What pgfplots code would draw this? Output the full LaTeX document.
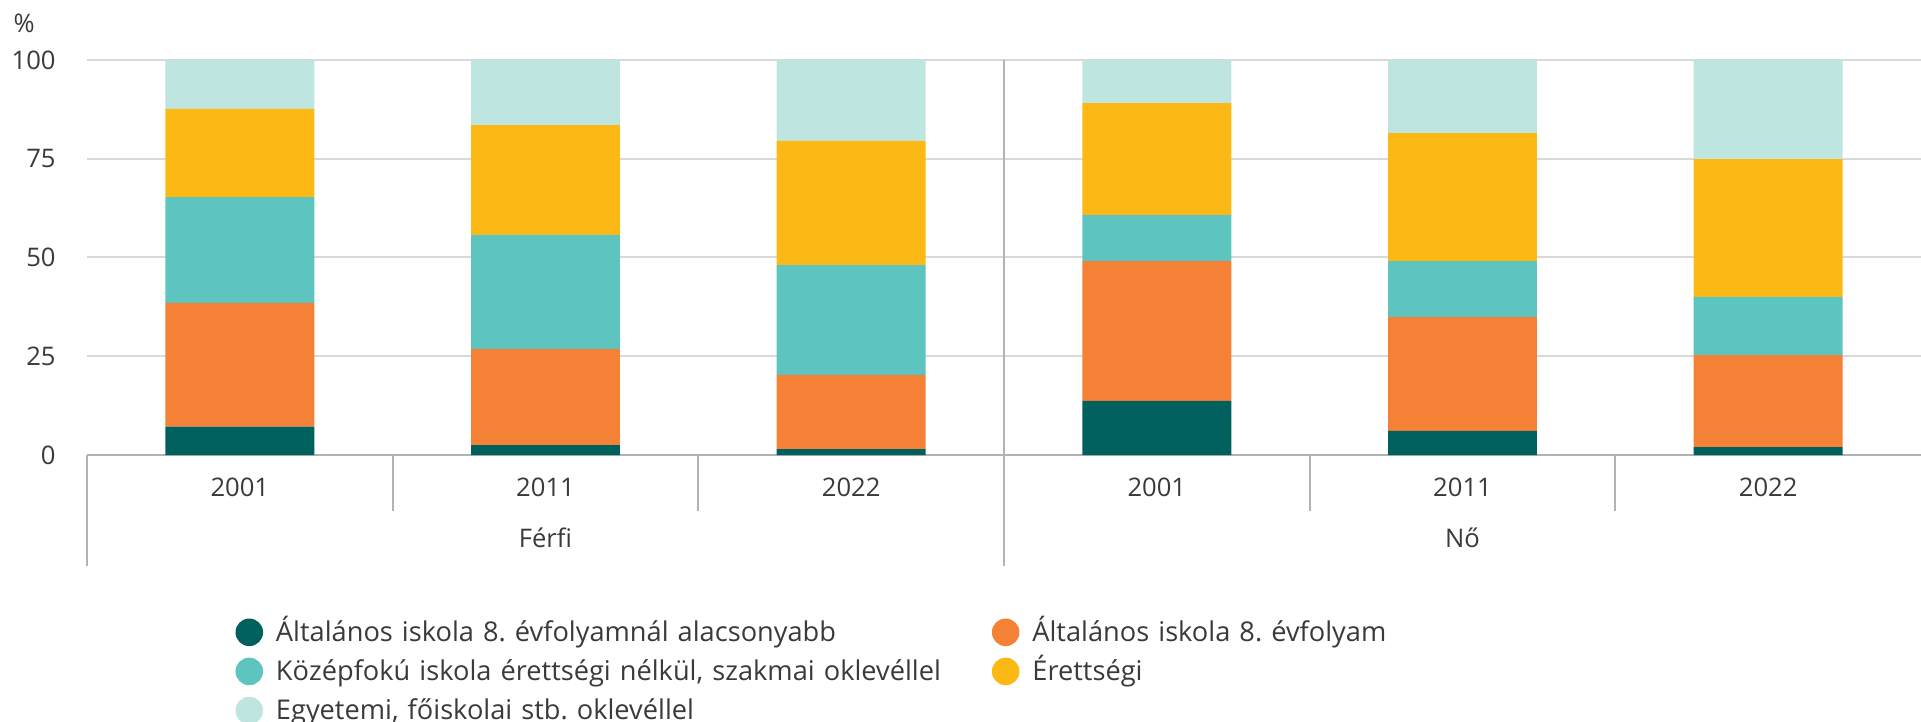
\documentclass[border=0pt]{standalone}
\usepackage{pgfplots}
\usepackage{pgfplotstable}
\pgfplotsset{compat=1.18}
\usepackage{fontspec}
\setmainfont{Open Sans}
\frenchspacing

\definecolor{cA}{HTML}{00605E}
\definecolor{cB}{HTML}{F48135}
\definecolor{cC}{HTML}{5DC4BF}
\definecolor{cD}{HTML}{FCB814}
\definecolor{cE}{HTML}{BFE5E1}
\definecolor{txt}{HTML}{3A3A3A}
\definecolor{sep}{HTML}{B3B3B3}

% x: 0-2 Ferfi 2001/2011/2022, 3-5 No 2001/2011/2022
\pgfplotstableread{
x  alacsony  nyolc  szakma  erettsegi  egyetem
0  7.2       31.3   26.8    22.3       12.4
1  2.5       24.3   28.9    27.8       16.5
2  1.5       18.8   27.8    31.4       20.5
3  13.7      35.4   11.7    28.3       10.9
4  6.1       28.8   14.2    32.4       18.5
5  2.0       23.3   14.7    34.9       25.1
}\data

\pgfplotsset{circleg/.style={legend image code/.code={\fill[##1] (6.9pt,0pt) circle (6.9pt);}}}

\begin{document}
\begin{tikzpicture}[font=\fontsize{12.8}{15}\selectfont, text=txt]
\begin{axis}[
  scale only axis, width=917pt, height=197.5pt,
  ybar stacked, bar width=0.487,
  xmin=-0.5, xmax=5.5, ymin=0, ymax=100,
  clip=false,
  axis x line*=bottom, axis y line*=left,
  axis line style={draw=none},
  major tick length=0pt,
  ytick={0,25,50,75,100},
  ymajorgrids, grid style={color=black!15, line width=1pt},
  xtick={0,...,5},
  xticklabels={2001,2011,2022,2001,2011,2022},
  xticklabel style={anchor=center, inner sep=0pt, yshift=-16.3pt},
  yticklabel style={anchor=east, inner sep=0pt, xshift=-15.5pt},
  /pgf/number format/assume math mode=true,
  tick label style={font=\fontsize{12.8}{15}\selectfont, text=txt},
  legend columns=2,
  legend style={draw=none, fill=none, inner sep=0pt, outer sep=0pt,
    at={(axis description cs:0.08097,-0.4140)}, anchor=north west,
    font=\fontsize{13.6}{16}\selectfont, text=txt,
    cells={anchor=west},
    nodes={inner sep=0pt, text height=11pt, text depth=2pt},
    row sep=5.75pt,
    /tikz/every odd column/.append style={column sep=6.45pt},
    /tikz/every even column/.append style={text width=350pt, column sep=7.95pt}},
  legend cell align=left,
]
\addplot[fill=cA, draw=none, circleg] table[x=x, y=alacsony] {\data};
\addplot[fill=cB, draw=none, circleg] table[x=x, y=nyolc] {\data};
\addplot[fill=cC, draw=none, circleg] table[x=x, y=szakma] {\data};
\addplot[fill=cD, draw=none, circleg] table[x=x, y=erettsegi] {\data};
\addplot[fill=cE, draw=none, circleg] table[x=x, y=egyetem] {\data};
\legend{Általános iskola 8. évfolyamnál alacsonyabb, Általános iskola 8. évfolyam,
  Középfokú iskola érettségi nélkül{,} szakmai oklevéllel, Érettségi,
  Egyetemi{,} főiskolai stb. oklevéllel}

% baseline and category separators
\draw[sep, line width=1.2pt] (axis cs:-0.5,0) -- (axis cs:5.5,0);
\draw[sep, line width=1pt] (axis cs:0.5,0) -- ++(0pt,-27.8pt);
\draw[sep, line width=1pt] (axis cs:1.5,0) -- ++(0pt,-27.8pt);
\draw[sep, line width=1pt] (axis cs:3.5,0) -- ++(0pt,-27.8pt);
\draw[sep, line width=1pt] (axis cs:4.5,0) -- ++(0pt,-27.8pt);
\draw[sep, line width=1pt] (axis cs:-0.5,0) -- ++(0pt,-55.5pt);
\draw[sep, line width=1pt] (axis cs:2.5,100) -- (axis cs:2.5,0) -- ++(0pt,-55.5pt);
\node[inner sep=0pt] at ([yshift=-41.2pt]axis cs:1,0) {Férfi};
\node[inner sep=0pt] at ([yshift=-41.2pt]axis cs:4,0) {Nő};
\node[inner sep=0pt, anchor=west] at ([xshift=-36.85pt, yshift=18.5pt]rel axis cs:0,1) {\%};
\end{axis}
\pgfresetboundingbox
\useasboundingbox (-43.5pt,-133.5pt) rectangle (917pt,227.5pt);
\end{tikzpicture}
\end{document}
